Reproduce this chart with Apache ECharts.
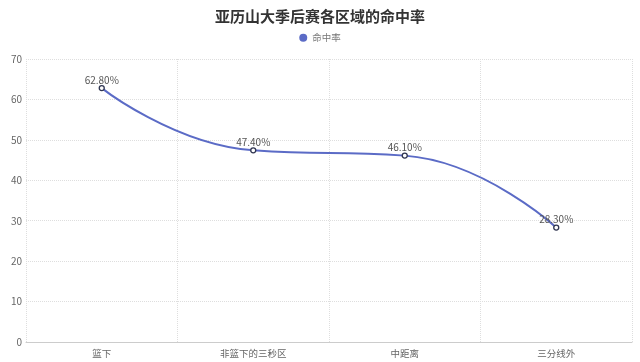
<!DOCTYPE html>
<html><head><meta charset="utf-8">
<script src="https://cdn.jsdelivr.net/npm/echarts@6/dist/echarts.min.js"></script>
<style>html,body{margin:0;padding:0;background:#fff}#c{width:640px;height:362px}</style>
</head><body><div id="c"></div>
<script>
const categories = ['篮下', '非篮下的三秒区', '中距离', '三分线外'];
const rates = [62.8, 47.4, 46.1, 28.3];
const yTicks = { min: 0, max: 70, interval: 10 };
const chart = echarts.init(document.getElementById('c'));
chart.setOption({
  animation: false,
  textStyle: { fontFamily: '"Noto Sans CJK SC", "Noto Sans", sans-serif' },
  title: { text: '亚历山大季后赛各区域的命中率', left: 'center', top: 4,
    textStyle: { fontSize: 15, fontWeight: 'bold', color: '#333' } },
  legend: { top: 28, icon: 'circle', itemWidth: 8, itemHeight: 8, itemGap: 4,
    itemStyle: { color: '#5b6bc6', borderWidth: 0 },
    textStyle: { fontSize: 9.5, color: '#777' }, data: ['命中率'] },
  grid: { left: 26, right: 8, top: 59, bottom: 20, containLabel: false },
  xAxis: { type: 'category', data: categories, boundaryGap: true,
    axisLine: { lineStyle: { color: '#ccc' } },
    axisTick: { alignWithLabel: true, lineStyle: { color: '#ccc' } },
    axisLabel: { color: '#666', fontSize: 9.5, margin: 7 },
    splitLine: { show: true, lineStyle: { type: 'dotted', color: '#dedede' } } },
  yAxis: { type: 'value', min: yTicks.min, max: yTicks.max, interval: yTicks.interval,
    axisLine: { show: false }, axisTick: { show: false },
    axisLabel: { color: '#666', fontSize: 10, margin: 4 },
    splitLine: { lineStyle: { type: 'dotted', color: '#dedede' } } },
  series: [{
    name: '命中率', type: 'line', smooth: true, data: rates,
    symbol: 'circle', symbolSize: 5,
    itemStyle: { color: '#ffffff', borderColor: '#2f3550', borderWidth: 1.3 },
    lineStyle: { color: '#5b6bc6', width: 2 },
    label: { show: true, position: 'top', distance: 0, color: '#555', fontSize: 10,
      formatter: p => p.value.toFixed(2) + '%' }
  }]
});
</script></body></html>
